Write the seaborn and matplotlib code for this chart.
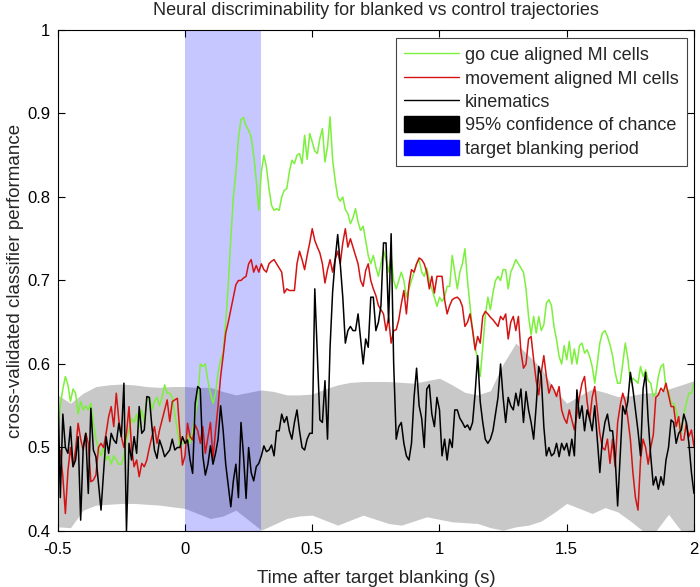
import numpy as np
import pandas as pd
import matplotlib
matplotlib.use("Agg")
import matplotlib.pyplot as plt
import seaborn as sns
from matplotlib.lines import Line2D
from matplotlib.patches import Patch

# time axis, 10 ms steps
time_s = np.round(np.arange(-0.5, 2.0001, 0.01), 2)

go_cue = [
    0.52, 0.55, 0.57, 0.585, 0.575, 0.555, 0.57, 0.565, 0.54, 0.555,
    0.545, 0.55, 0.545, 0.553, 0.53, 0.51, 0.50, 0.49, 0.50, 0.485,
    0.49, 0.48, 0.49, 0.485, 0.48, 0.48, 0.49, 0.51, 0.52, 0.535,
    0.53, 0.54, 0.525, 0.545, 0.53, 0.555, 0.56, 0.545, 0.555, 0.56,
    0.55, 0.56, 0.575, 0.565, 0.565, 0.56, 0.54, 0.52, 0.50, 0.505,
    0.505, 0.515, 0.505, 0.52, 0.537, 0.557, 0.60, 0.597, 0.60, 0.58,
    0.565, 0.553, 0.565, 0.59, 0.605, 0.613, 0.65, 0.695, 0.75, 0.80,
    0.83, 0.87, 0.893, 0.895, 0.885, 0.88, 0.872, 0.85, 0.82, 0.784,
    0.83, 0.85, 0.836, 0.81, 0.79, 0.784, 0.786, 0.784, 0.80, 0.808,
    0.81, 0.83, 0.844, 0.84, 0.85, 0.852, 0.84, 0.874, 0.845, 0.876,
    0.866, 0.855, 0.852, 0.87, 0.882, 0.842, 0.86, 0.896, 0.845, 0.82,
    0.80, 0.795, 0.80, 0.785, 0.78, 0.768, 0.775, 0.786, 0.77, 0.76,
    0.765, 0.748, 0.73, 0.72, 0.73, 0.716, 0.705, 0.72, 0.736, 0.725,
    0.71, 0.73, 0.70, 0.69, 0.70, 0.71, 0.70, 0.68, 0.69, 0.70,
    0.71, 0.72, 0.725, 0.71, 0.705, 0.715, 0.70, 0.69, 0.68, 0.669,
    0.68, 0.675, 0.68, 0.693, 0.693, 0.73, 0.71, 0.69, 0.71, 0.72,
    0.738, 0.70, 0.67, 0.64, 0.62, 0.605, 0.585, 0.62, 0.657, 0.68,
    0.665, 0.685, 0.70, 0.705, 0.70, 0.713, 0.713, 0.69, 0.71, 0.717,
    0.725, 0.72, 0.715, 0.71, 0.69, 0.657, 0.635, 0.657, 0.637, 0.657,
    0.64, 0.647, 0.673, 0.677, 0.67, 0.645, 0.629, 0.609, 0.60, 0.622,
    0.605, 0.627, 0.60, 0.618, 0.60, 0.622, 0.625, 0.613, 0.617, 0.609,
    0.597, 0.577, 0.60, 0.625, 0.637, 0.64, 0.633, 0.623, 0.61, 0.59,
    0.577, 0.577, 0.60, 0.625, 0.607, 0.578, 0.583, 0.58, 0.577, 0.597,
    0.585, 0.593, 0.58, 0.577, 0.561, 0.565, 0.585, 0.597, 0.60, 0.57,
    0.567, 0.553, 0.553, 0.545, 0.529, 0.517, 0.54, 0.553, 0.565, 0.565,
    0.577,
]

movement = [
    0.457, 0.497, 0.465, 0.421, 0.472, 0.50, 0.477, 0.497, 0.529, 0.51,
    0.497, 0.517, 0.505, 0.459, 0.461, 0.467, 0.50, 0.505, 0.50, 0.517,
    0.537, 0.549, 0.525, 0.565, 0.533, 0.513, 0.50, 0.517, 0.549, 0.50,
    0.477, 0.485, 0.465, 0.481, 0.477, 0.485, 0.50, 0.513, 0.525, 0.505,
    0.521, 0.533, 0.545, 0.557, 0.531, 0.555, 0.557, 0.559, 0.517, 0.479,
    0.49, 0.529, 0.513, 0.509, 0.527, 0.52, 0.505, 0.525, 0.493, 0.512,
    0.53, 0.487, 0.52, 0.55, 0.585, 0.61, 0.637, 0.65, 0.665, 0.68,
    0.695, 0.70, 0.70, 0.703, 0.705, 0.72, 0.725, 0.71, 0.718, 0.71,
    0.72, 0.713, 0.71, 0.72, 0.723, 0.725, 0.72, 0.715, 0.71, 0.685,
    0.69, 0.688, 0.688, 0.688, 0.72, 0.735, 0.725, 0.713, 0.73, 0.745,
    0.762, 0.748, 0.74, 0.733, 0.72, 0.697, 0.713, 0.725, 0.71, 0.725,
    0.735, 0.72, 0.745, 0.762, 0.74, 0.75, 0.74, 0.73, 0.72, 0.70,
    0.693, 0.712, 0.72, 0.70, 0.69, 0.682, 0.67, 0.665, 0.66, 0.64,
    0.655, 0.625, 0.64, 0.641, 0.653, 0.672, 0.688, 0.66, 0.695, 0.713,
    0.71, 0.72, 0.727, 0.725, 0.72, 0.71, 0.69, 0.705, 0.685, 0.705,
    0.705, 0.705, 0.677, 0.66, 0.67, 0.677, 0.679, 0.68, 0.677, 0.669,
    0.645, 0.65, 0.66, 0.641, 0.617, 0.633, 0.625, 0.657, 0.663, 0.66,
    0.656, 0.653, 0.649, 0.645, 0.657, 0.653, 0.66, 0.63, 0.65, 0.657,
    0.64, 0.657, 0.615, 0.595, 0.60, 0.63, 0.633, 0.605, 0.58, 0.563,
    0.59, 0.61, 0.585, 0.565, 0.575, 0.569, 0.561, 0.573, 0.545, 0.535,
    0.529, 0.545, 0.533, 0.521, 0.54, 0.561, 0.577, 0.585, 0.555, 0.533,
    0.56, 0.573, 0.545, 0.517, 0.50, 0.497, 0.51, 0.481, 0.51, 0.477,
    0.53, 0.55, 0.565, 0.555, 0.535, 0.51, 0.47, 0.44, 0.425, 0.485,
    0.51, 0.50, 0.48, 0.50, 0.515, 0.56, 0.563, 0.571, 0.567, 0.577,
    0.563, 0.549, 0.549, 0.525, 0.537, 0.509, 0.509, 0.529, 0.513, 0.521,
    0.501,
]

kinematics = [
    0.585, 0.44, 0.54, 0.50, 0.493, 0.525, 0.477, 0.485, 0.513, 0.413,
    0.50, 0.517, 0.445, 0.547, 0.497, 0.489, 0.457, 0.425, 0.47, 0.513,
    0.493, 0.517, 0.509, 0.505, 0.529, 0.513, 0.577, 0.40, 0.505, 0.485,
    0.513, 0.493, 0.549, 0.517, 0.521, 0.561, 0.56, 0.525, 0.497, 0.487,
    0.509, 0.50, 0.489, 0.493, 0.497, 0.51, 0.497, 0.50, 0.50, 0.513,
    0.505, 0.509, 0.485, 0.469, 0.553, 0.573, 0.57, 0.49, 0.467, 0.48,
    0.502, 0.48, 0.493, 0.51, 0.55, 0.52, 0.48, 0.455, 0.429, 0.46,
    0.48, 0.44, 0.53, 0.49, 0.439, 0.50, 0.47, 0.46, 0.477, 0.481,
    0.49, 0.502, 0.495, 0.497, 0.503, 0.49, 0.52, 0.52, 0.54, 0.53,
    0.537, 0.52, 0.51, 0.53, 0.545, 0.52, 0.50, 0.497, 0.51, 0.517,
    0.517, 0.69, 0.61, 0.533, 0.53, 0.58, 0.51, 0.62, 0.686, 0.725,
    0.755, 0.72, 0.68, 0.625, 0.64, 0.645, 0.64, 0.64, 0.66, 0.63,
    0.60, 0.63, 0.62, 0.68, 0.68, 0.64, 0.65, 0.67, 0.745, 0.745,
    0.65, 0.756, 0.60, 0.51, 0.525, 0.53, 0.505, 0.49, 0.485, 0.505,
    0.56, 0.595, 0.55, 0.535, 0.50, 0.57, 0.575, 0.54, 0.525, 0.56,
    0.545, 0.49, 0.51, 0.485, 0.51, 0.50, 0.545, 0.545, 0.535, 0.53,
    0.524, 0.527, 0.521, 0.53, 0.565, 0.61, 0.555, 0.53, 0.51, 0.505,
    0.51, 0.52, 0.54, 0.56, 0.60, 0.56, 0.53, 0.56, 0.55, 0.545,
    0.565, 0.55, 0.57, 0.53, 0.567, 0.545, 0.53, 0.51, 0.55, 0.597,
    0.585, 0.525, 0.49, 0.50, 0.49, 0.493, 0.505, 0.489, 0.505, 0.497,
    0.505, 0.49, 0.51, 0.49, 0.569, 0.535, 0.55, 0.52, 0.545, 0.535,
    0.52, 0.55, 0.51, 0.47, 0.51, 0.53, 0.54, 0.52, 0.52, 0.49,
    0.43, 0.49, 0.55, 0.54, 0.555, 0.59, 0.57, 0.545, 0.52, 0.49,
    0.57, 0.59, 0.533, 0.49, 0.455, 0.465, 0.45, 0.465, 0.455, 0.485,
    0.50, 0.533, 0.53, 0.505, 0.517, 0.521, 0.54, 0.53, 0.505, 0.47,
    0.445,
]

# 95% confidence band of chance, 50 ms grid
band_t = np.round(np.arange(-0.5, 2.0001, 0.05), 2)
band_hi = [
    0.563, 0.553, 0.565, 0.573, 0.575, 0.576, 0.575, 0.573, 0.572, 0.573,
    0.573, 0.572, 0.572, 0.567, 0.563, 0.566, 0.569, 0.567, 0.563, 0.563,
    0.564, 0.570, 0.575, 0.578, 0.579, 0.579, 0.579, 0.578, 0.577, 0.580,
    0.583, 0.575, 0.566, 0.563, 0.568, 0.600, 0.625, 0.610, 0.595, 0.570,
    0.553, 0.562, 0.570, 0.566, 0.561, 0.562, 0.565, 0.566, 0.570, 0.575,
    0.580,
]
band_lo = [
    0.405, 0.404, 0.425, 0.431, 0.432, 0.433, 0.433, 0.432, 0.431, 0.429,
    0.427, 0.421, 0.415, 0.418, 0.425, 0.413, 0.401, 0.408, 0.415, 0.418,
    0.419, 0.413, 0.407, 0.413, 0.419, 0.414, 0.409, 0.407, 0.412, 0.417,
    0.414, 0.411, 0.410, 0.409, 0.404, 0.401, 0.405, 0.407, 0.412, 0.422,
    0.433, 0.427, 0.421, 0.428, 0.423, 0.412, 0.400, 0.400, 0.420, 0.400,
    0.400,
]

blank_start, blank_end = 0.0, 0.3

series_names = ["go cue aligned MI cells", "movement aligned MI cells", "kinematics"]
series_colors = ["#7cf03c", "#d41414", "#000000"]

df = pd.concat([
    pd.DataFrame({"time": time_s, "perf": vals, "series": name})
    for name, vals in zip(series_names, [go_cue, movement, kinematics])
])

sns.set_style("ticks")
plt.rcParams["font.family"] = ["Liberation Sans", "DejaVu Sans"]

fig = plt.figure(figsize=(7.0, 5.87), dpi=100)
ax = fig.add_axes([0.0825, 0.0954, 0.9089, 0.8535])

ax.fill_between(band_t, band_lo, band_hi, color="#c8c8c8", linewidth=0, zorder=0.5)
ax.axvspan(blank_start, blank_end, color="#0000ff", alpha=0.22, linewidth=0, zorder=0.6)

sns.lineplot(data=df, x="time", y="perf", hue="series", hue_order=series_names,
             palette=series_colors, linewidth=1.1, legend=False, ax=ax, zorder=2)

ax.set_xlim(-0.5, 2)
ax.set_ylim(0.4, 1)
ax.set_xticks([-0.5, 0, 0.5, 1, 1.5, 2])
ax.set_xticklabels(["-0.5", "0", "0.5", "1", "1.5", "2"])
ax.set_yticks([0.4, 0.5, 0.6, 0.7, 0.8, 0.9, 1])
ax.set_yticklabels(["0.4", "0.5", "0.6", "0.7", "0.8", "0.9", "1"])
ax.tick_params(direction="in", length=5, width=0.8, labelsize=12,
               top=True, right=True, colors="black")
ax.tick_params(axis="x", pad=8)
ax.tick_params(axis="y", pad=5.5)
for sp in ax.spines.values():
    sp.set_visible(True)
    sp.set_linewidth(0.8)
    sp.set_color("black")

ax.set_xlabel("Time after target blanking (s)", fontsize=13.5, labelpad=9)
ax.set_ylabel("cross-validated classifier performance", fontsize=13.5, labelpad=2)
ax.set_title("Neural discriminability for blanked vs control trajectories",
             fontsize=13, pad=10.5)

handles = [Line2D([], [], color=c, linewidth=1.0) for c in series_colors]
handles += [Patch(facecolor="black", edgecolor="black"),
            Patch(facecolor="#0000ff", edgecolor="#0000ff")]
labels = series_names + ["95% confidence of chance", "target blanking period"]
leg = ax.legend(handles, labels, loc="upper right", bbox_to_anchor=(0.989, 0.984),
                fontsize=13, frameon=True, fancybox=False, framealpha=1,
                edgecolor="#444444", handlelength=3.05, handleheight=0.95,
                handletextpad=0.35, labelspacing=0.3, borderpad=0.45,
                borderaxespad=0)
leg.get_frame().set_linewidth(0.8)

fig.savefig("out.png", dpi=100)
